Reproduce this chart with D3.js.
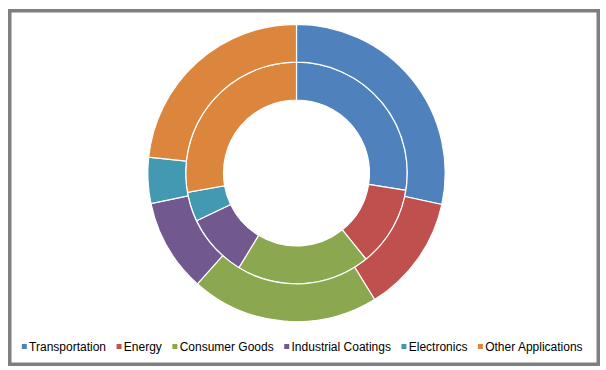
<!DOCTYPE html>
<meta charset="utf-8">
<style>
body { margin: 0; background: #fff; }
.legend text { font: 12px "Liberation Sans", Arial, sans-serif; fill: #000; }
</style>
<body>
<div id="chart"></div>
<script src="https://cdn.jsdelivr.net/npm/d3@7"></script>
<script>
// ---- data ----
var categories = ["Transportation", "Energy", "Consumer Goods", "Industrial Coatings", "Electronics", "Other Applications"];
var innerValues = [27.5, 11.7, 19.5, 9.2, 4.3, 27.8];
var outerValues = [28.4, 12.8, 20.4, 10.1, 5.0, 23.3];
var colors = ["#4F81BD", "#C0504D", "#8BA74F", "#71588F", "#4299B1", "#DC853D"];

var width = 606, height = 370;
var cx = 296.5, cy = 173;
var holeR = 73, midR = 110.8, outerR = 148.7;

var svg = d3.select("#chart").append("svg")
    .attr("width", width)
    .attr("height", height);

// frame
svg.append("rect")
    .attr("x", 9.75).attr("y", 10.75)
    .attr("width", 588.5).attr("height", 353.5)
    .attr("fill", "#fff")
    .attr("stroke", "#7f7f7f")
    .attr("stroke-width", 3.5);

var color = d3.scaleOrdinal().domain(categories).range(colors);

var pie = d3.pie().sort(null).value(function(d) { return d.v; });

function ring(values, r0, r1) {
  var data = values.map(function(v, i) { return {name: categories[i], v: v}; });
  var arc = d3.arc().innerRadius(r0).outerRadius(r1);
  g.append("g").selectAll("path")
      .data(pie(data))
    .enter().append("path")
      .attr("d", arc)
      .attr("fill", function(d) { return color(d.data.name); })
      .attr("stroke", "#fff")
      .attr("stroke-width", 1.2);
}

var g = svg.append("g").attr("transform", "translate(" + cx + "," + cy + ")");
ring(innerValues, holeR, midR);
ring(outerValues, midR, outerR);

// ---- legend ----
var legend = svg.append("g").attr("class", "legend");
var items = legend.selectAll("g").data(categories).enter().append("g");
items.append("rect")
    .attr("width", 5).attr("height", 5)
    .attr("y", 344)
    .attr("fill", function(d) { return color(d); });
items.append("text")
    .attr("x", 7.3)
    .attr("y", 351)
    .text(function(d) { return d; });

var gap = 10.5;
var pos = 0;
items.each(function() {
  var w = d3.select(this).select("text").node().getComputedTextLength();
  d3.select(this).attr("transform", "translate(" + pos + ",0)");
  pos += 7.3 + w + gap;
});
var total = pos - gap;
legend.attr("transform", "translate(" + (302.2 - total / 2) + ",0)");
</script>
</body>
